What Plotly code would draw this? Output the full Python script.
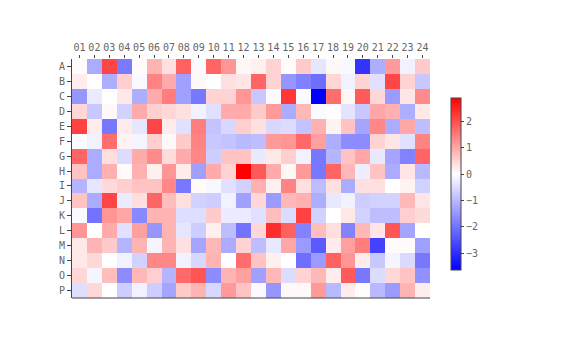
import plotly.graph_objects as go

col_labels = [f"{i:02d}" for i in range(1, 25)]
row_labels = list("ABCDEFGHIJKLMNOP")

row_A = [0.05, -1.2, 2.1, -1.9, 0.05, 0.85, 0.35, 1.8, -0.07, 1.75, 1.2, 0.1, 0.17, 0.5, 0.05, 0.6, -0.35, 0.08, -0.1, -2.9, -1.15, 1.15, -0.2, 0.6]
row_B = [0.2, 0.02, -1.15, 0.55, -0.08, 1.4, 0.95, -1.35, 0.08, 0.0, 0.35, 0.3, 1.75, 0.5, -1.5, -1.8, -2.07, 0.45, -0.2, 0.5, -0.43, 2.1, 0.5, -0.78]
row_C = [-1.5, -0.29, 0.0, 0.26, -1.15, 0.95, 1.47, -1.35, -1.93, 0.5, 0.5, 1.2, -0.78, -0.07, 2.27, -0.07, -3.64, 1.65, 0.1, 1.87, 0.45, -1.43, 0.3, 1.3]
row_D = [0.45, -0.78, 0.08, -0.64, 0.95, 0.55, 0.45, 0.35, -0.2, -0.43, 0.95, 0.95, 0.6, 1.15, -1.2, 0.8, -0.07, 0.02, -0.39, -0.78, 1.0, 0.9, -1.15, 0.26]
row_E = [2.15, 0.2, -1.93, 0.23, -0.36, 2.1, 0.23, -0.43, 1.47, -0.86, -0.57, 0.55, 0.35, -0.57, -0.5, -0.86, 0.9, 0.15, 0.68, -1.28, 1.36, -1.2, 1.0, -0.93]
row_F = [-0.07, -0.2, 1.65, 0.15, -0.14, 0.55, 0.08, 0.6, 1.4, -0.78, -0.86, -1.0, -0.93, 1.15, 1.2, 1.7, 1.08, -1.15, -1.64, -1.64, 0.5, 0.28, -0.43, 1.4]
row_G = [1.75, -1.2, 0.37, -0.5, 0.95, 1.3, 0.4, 0.95, 1.36, -0.71, 0.68, 0.68, -0.3, 0.26, 0.55, -0.2, -1.93, -1.07, 0.68, 1.0, -0.33, -1.28, -1.78, 1.75]
row_H = [0.68, -1.2, 0.9, 0.05, 0.9, 0.17, 1.2, 0.23, -1.35, 0.95, 0.5, 2.89, 1.87, 0.95, 0.1, 1.15, -1.93, 1.75, 0.8, -0.24, 0.68, -1.2, 0.3, -1.0]
row_I = [-1.07, -0.36, 0.42, 0.55, 0.68, 0.68, 1.36, -1.93, 0.05, -0.1, -0.43, -0.64, 0.9, 0.17, 1.4, 0.35, -0.93, 0.35, -1.2, 0.35, 0.35, 0.0, 0.15, -0.64]
row_J = [0.68, -1.2, 2.1, -0.29, 0.37, 1.75, 0.74, 0.37, -0.64, -0.71, -0.2, -1.35, 0.45, -1.43, 0.8, 0.9, -1.15, -0.33, -0.2, -0.71, -0.64, -0.64, 0.8, 0.3]
row_K = [-0.07, -2.0, 1.2, 1.0, -1.7, 0.85, 0.85, -0.47, -0.47, 0.6, -0.29, -0.29, -0.43, 0.74, -0.5, 2.15, -0.64, 0.0, 0.26, -0.64, -0.93, -0.93, 0.55, 0.42]
row_L = [1.2, 0.0, 0.95, -0.43, 1.08, -1.5, 0.85, -0.36, -0.71, 0.17, -0.93, -2.0, 0.45, 2.37, 1.8, -1.78, 0.74, 0.37, -1.78, 0.8, 0.3, 1.93, -1.28, 0.0]
row_M = [0.26, 0.85, 0.6, -1.07, 0.85, -0.14, 0.85, 0.35, -1.28, 0.8, -1.2, 0.5, -0.93, -0.33, 1.0, -1.43, -2.36, 0.23, 1.08, 1.47, -2.7, 0.05, 0.05, -1.35]
row_N = [0.26, 0.45, 0.0, -0.2, -0.64, 1.36, 1.36, -0.2, -0.57, 0.85, 0.0, 1.65, 0.68, 0.17, 0.0, -2.07, -1.43, 1.8, 1.2, 0.23, -0.78, -0.14, -0.53, -1.93]
row_O = [0.45, -0.14, 0.74, -1.64, 0.8, 0.55, -1.07, 1.7, 1.93, -1.64, 0.85, 1.08, -1.35, 0.8, -0.5, 0.5, 0.8, 0.2, 1.87, -1.93, -0.5, 0.45, 0.68, -1.57]
row_P = [-0.47, 0.45, 0.0, -0.71, -0.2, -0.71, -1.28, 0.6, 0.85, -0.57, 1.15, 0.68, -0.08, -1.5, 0.08, 0.08, 1.15, -1.0, 0.2, 0.03, -1.0, -1.43, 0.85, 0.2]

z = [row_A, row_B, row_C, row_D, row_E, row_F, row_G, row_H,
     row_I, row_J, row_K, row_L, row_M, row_N, row_O, row_P]

zmin = min(min(r) for r in z)
zmax = max(max(r) for r in z)
mid = (0 - zmin) / (zmax - zmin)
colorscale = [[0.0, "rgb(0,0,255)"], [mid, "rgb(255,255,255)"], [1.0, "rgb(255,0,0)"]]

FONT = "DejaVu Sans Mono"
GRAY = "#666666"
LINE = "#444444"

fig = go.Figure(go.Heatmap(
    z=z, x=col_labels, y=row_labels,
    zmin=zmin, zmax=zmax, colorscale=colorscale,
    colorbar=dict(
        x=1.059, xanchor="left", y=0.477, yanchor="middle",
        len=172, lenmode="pixels", thickness=10, thicknessmode="pixels",
        outlinewidth=1, outlinecolor=LINE,
        ticks="outside", ticklen=3, tickcolor=LINE,
        tickvals=[-3, -2, -1, 0, 1, 2],
        tickfont=dict(family=FONT, size=10, color=GRAY),
        xpad=0, ypad=0,
    ),
    hoverinfo="x+y+z",
))

# page body has an 8px default margin, so the figure is drawn 8px smaller
fig.update_layout(
    width=568, height=352,
    margin=dict(l=64, r=146, t=51, b=62),
    paper_bgcolor="white", plot_bgcolor="white",
    font=dict(family=FONT, size=10, color=GRAY),
    xaxis=dict(side="top", ticks="outside", ticklen=3, tickcolor=LINE,
               showgrid=False, zeroline=False, showline=False,
               tickfont=dict(family=FONT, size=10, color=GRAY)),
    yaxis=dict(autorange="reversed", ticks="outside", ticklen=4, tickcolor=LINE,
               showgrid=False, zeroline=False, showline=True, linecolor=LINE, linewidth=1,
               tickfont=dict(family=FONT, size=10, color=GRAY)),
    shapes=[dict(type="line", xref="paper", yref="paper", x0=0, x1=1, y0=0, y1=0,
                 line=dict(color=LINE, width=1))],
)

fig.write_html("out.html")
